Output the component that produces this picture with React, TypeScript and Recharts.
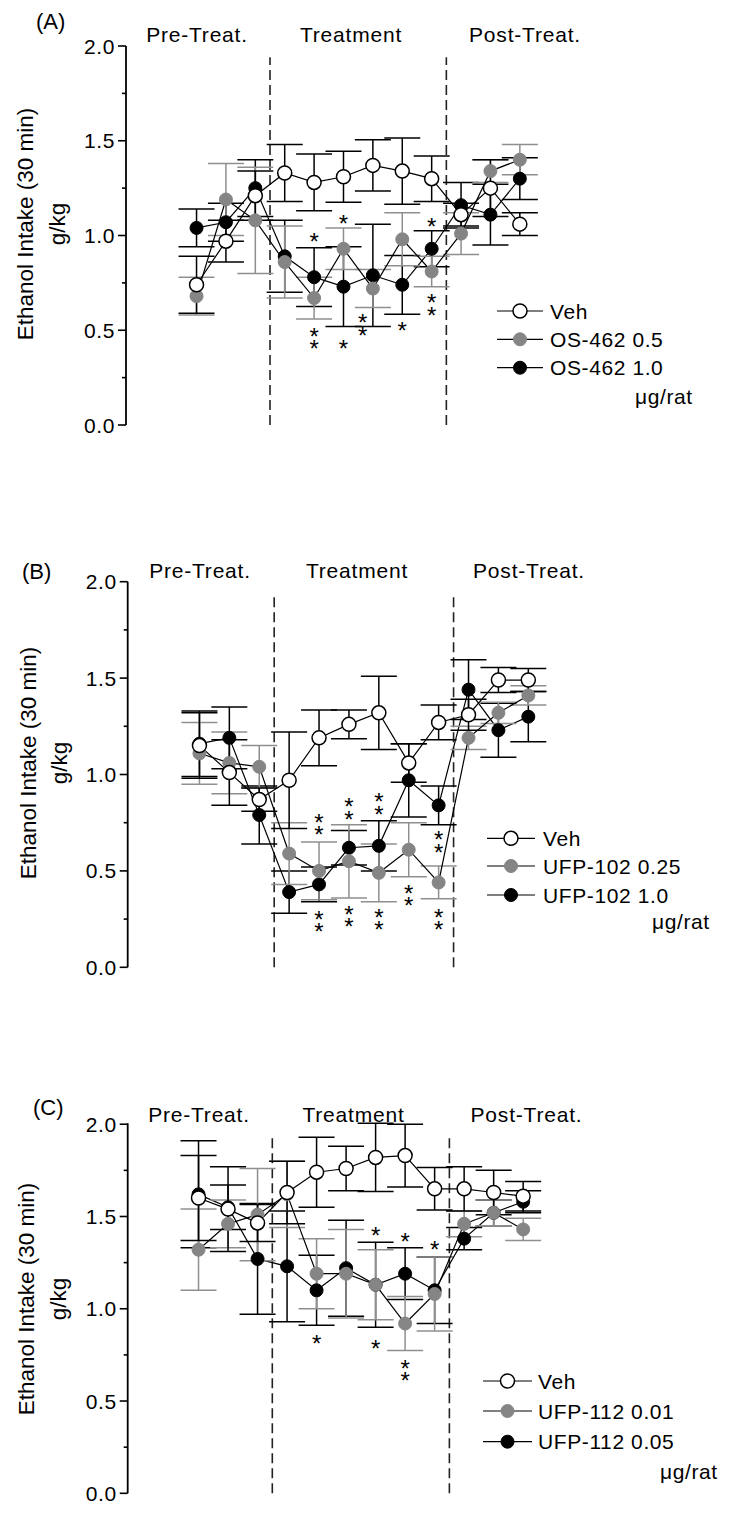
import { ComposedChart, Line, Scatter, XAxis, YAxis, ErrorBar, ReferenceLine } from "recharts";

// sessions 1-3 pre-treatment, 4-9 treatment, 10-12 post-treatment
const sessions = [1, 2, 3, 4, 5, 6, 7, 8, 9, 10, 11, 12];
const yTicks = [0, 0.25, 0.5, 0.75, 1, 1.25, 1.5, 1.75, 2];
const phaseBreaks = [3.5, 9.5];

// (A) OS-462
const vehA = [0.74, 0.97, 1.21, 1.33, 1.28, 1.31, 1.37, 1.34, 1.3, 1.11, 1.25, 1.06];
const vehASem = [0.15, 0.11, 0.13, 0.15, 0.15, 0.135, 0.135, 0.175, 0.12, 0.06, 0.15, 0.06];
const os05 = [0.68, 1.19, 1.08, 0.86, 0.67, 0.93, 0.72, 0.98, 0.81, 1.01, 1.34, 1.4];
const os05Sem = [0.1, 0.19, 0.28, 0.19, 0.11, 0.11, 0.1, 0.14, 0.08, 0.11, 0.06, 0.08];
const os10 = [1.04, 1.07, 1.25, 0.89, 0.78, 0.73, 0.79, 0.74, 0.93, 1.16, 1.11, 1.3];
const os10Sem = [0.1, 0.1, 0.15, 0.19, 0.155, 0.21, 0.27, 0.155, 0.095, 0.12, 0.16, 0.11];
const starsA = [
  { session: 5, y: 0.99, n: 1 },
  { session: 5, y: 0.46, n: 2 },
  { session: 6, y: 1.085, n: 1 },
  { session: 6, y: 0.43, n: 1 },
  { session: 6.65, y: 0.53, n: 2 },
  { session: 8, y: 0.52, n: 1 },
  { session: 9, y: 1.07, n: 1 },
  { session: 9, y: 0.636, n: 2 },
];

// (B) UFP-102
const vehB = [1.15, 1.01, 0.87, 0.97, 1.19, 1.26, 1.32, 1.06, 1.27, 1.31, 1.49, 1.49];
const vehBSem = [0.17, 0.17, 0.06, 0.25, 0.145, 0.075, 0.19, 0.1, 0.09, 0.08, 0.065, 0.06];
const ufp102Low = [1.11, 1.06, 1.04, 0.59, 0.5, 0.55, 0.49, 0.61, 0.44, 1.19, 1.32, 1.41];
const ufp102LowSem = [0.16, 0.16, 0.11, 0.16, 0.15, 0.19, 0.15, 0.14, 0.085, 0.06, 0.055, 0.05];
const ufp102High = [1.16, 1.19, 0.79, 0.39, 0.43, 0.62, 0.63, 0.97, 0.84, 1.44, 1.23, 1.3];
const ufp102HighSem = [0.17, 0.16, 0.15, 0.11, 0.09, 0.09, 0.13, 0.19, 0.1, 0.155, 0.14, 0.13];
const starsB = [
  { session: 5, y: 0.743, n: 2 },
  { session: 5, y: 0.24, n: 2 },
  { session: 6, y: 0.824, n: 2 },
  { session: 6, y: 0.266, n: 2 },
  { session: 7, y: 0.85, n: 2 },
  { session: 7, y: 0.25, n: 2 },
  { session: 8, y: 0.375, n: 2 },
  { session: 9, y: 0.652, n: 2 },
  { session: 9, y: 0.25, n: 2 },
];

// (C) UFP-112
const vehC = [1.6, 1.54, 1.465, 1.63, 1.74, 1.76, 1.82, 1.83, 1.65, 1.65, 1.63, 1.61];
const vehCSem = [0.23, 0.23, 0.1, 0.17, 0.19, 0.12, 0.185, 0.17, 0.115, 0.12, 0.12, 0.08];
const ufp112Low = [1.32, 1.46, 1.51, 1.62, 1.19, 1.19, 1.13, 0.92, 1.08, 1.46, 1.52, 1.43];
const ufp112LowSem = [0.22, 0.13, 0.25, 0.18, 0.19, 0.24, 0.19, 0.146, 0.2, 0.07, 0.07, 0.06];
const ufp112High = [1.62, 1.55, 1.27, 1.23, 1.1, 1.22, 1.13, 1.19, 1.1, 1.38, 1.52, 1.58];
const ufp112HighSem = [0.29, 0.12, 0.3, 0.3, 0.19, 0.26, 0.23, 0.14, 0.18, 0.06, 0.07, 0.06];
const starsC = [
  { session: 5, y: 0.838, n: 1 },
  { session: 7, y: 1.42, n: 1 },
  { session: 7, y: 0.807, n: 1 },
  { session: 8, y: 1.387, n: 1 },
  { session: 8, y: 0.667, n: 2 },
  { session: 9, y: 1.343, n: 1 },
];

const FONT = '"Liberation Sans", Arial, Helvetica, sans-serif';
const GREY = "#858585";
const GREY_BAR = "#8f8f8f";

function buildRows(veh: number[], vehSem: number[], low: number[], lowSem: number[], high: number[], highSem: number[]) {
  return sessions.map((s, i) => ({
    session: s,
    veh: veh[i],
    vehSem: vehSem[i],
    low: low[i],
    lowSem: lowSem[i],
    high: high[i],
    highSem: highSem[i],
  }));
}

function YTick({ x, y, payload }: any) {
  const v = payload.value;
  const major = Math.abs(v * 2 - Math.round(v * 2)) < 1e-6;
  return (
    <g>
      <line x1={x - (major ? 8 : 4)} x2={x} y1={y} y2={y} stroke="#000" strokeWidth={1.6} />
      {major && (
        <text x={x - 11} y={y} dy="0.36em" textAnchor="end" fontSize={21} fontFamily={FONT} fill="#000" letterSpacing={0.6}>
          {v.toFixed(1)}
        </text>
      )}
    </g>
  );
}

// one text element per group of stars, stacked with tspans
function StarShape({ cx, cy, payload }: any) {
  const n = payload.n;
  const gap = 12.5;
  const first = cy - ((n - 1) * gap) / 2;
  return (
    <text x={cx} y={first + 13} textAnchor="middle" fontSize={24} fontFamily={FONT} fill="#000">
      {Array.from({ length: n }).map((_, k) => (
        <tspan key={k} x={cx} dy={k === 0 ? 0 : gap}>
          *
        </tspan>
      ))}
    </text>
  );
}

interface PanelProps {
  top: number;
  height: number;
  margin: { top: number; right: number; bottom: number; left: number };
  rows: any[];
  stars: any[];
}

function Panel({ top, height, margin, rows, stars }: PanelProps) {
  return (
    <div style={{ position: "absolute", left: 0, top, width: 733, height }}>
      <ComposedChart width={733} height={height} data={rows} margin={margin}>
        <XAxis
          type="number"
          dataKey="session"
          domain={[-1.4, 15]}
          allowDataOverflow
          tick={false}
          tickLine={false}
          height={0}
          axisLine={{ stroke: "#000", strokeWidth: 1.8 }}
        />
        <YAxis
          type="number"
          domain={[0, 2]}
          ticks={yTicks}
          interval={0}
          width={60}
          tickSize={0}
          tickMargin={0}
          tickLine={false}
          tick={<YTick />}
          axisLine={{ stroke: "#000", strokeWidth: 1.8 }}
        />
        {phaseBreaks.map((b) => (
          <ReferenceLine
            key={b}
            segment={[
              { x: b, y: 0 },
              { x: b, y: 1.94 },
            ]}
            stroke="#222"
            strokeWidth={1.6}
            strokeDasharray="10 5"
          />
        ))}
        <Line
          dataKey="high"
          stroke="#000"
          strokeWidth={1.2}
          dot={{ r: 6.5, fill: "#000", stroke: "#000", strokeWidth: 1 }}
          activeDot={false}
          isAnimationActive={false}
        >
          <ErrorBar dataKey="highSem" width={18} stroke="#000" strokeWidth={1.5} />
        </Line>
        <Line
          dataKey="low"
          stroke="#000"
          strokeWidth={1.2}
          dot={{ r: 6.5, fill: GREY, stroke: GREY, strokeWidth: 1 }}
          activeDot={false}
          isAnimationActive={false}
        >
          <ErrorBar dataKey="lowSem" width={18} stroke={GREY_BAR} strokeWidth={1.5} />
        </Line>
        <Line
          dataKey="veh"
          stroke="#000"
          strokeWidth={1.2}
          dot={{ r: 7, fill: "#fff", stroke: "#000", strokeWidth: 1.5 }}
          activeDot={false}
          isAnimationActive={false}
        >
          <ErrorBar dataKey="vehSem" width={18} stroke="#000" strokeWidth={1.5} />
        </Line>
        <Scatter data={stars} dataKey="y" shape={<StarShape />} isAnimationActive={false} />
      </ComposedChart>
    </div>
  );
}

function Legend({ x1, x2, textX, rows, labels, unitX, unitY }: any) {
  const fills = ["#fff", GREY, "#000"];
  const strokes = ["#000", GREY, "#000"];
  const mid = (x1 + x2) / 2;
  return (
    <g>
      {labels.map((lab: string, i: number) => (
        <g key={lab}>
          <line x1={x1} x2={x2} y1={rows[i]} y2={rows[i]} stroke="#000" strokeWidth={1.2} />
          <circle cx={mid} cy={rows[i]} r={i === 0 ? 7 : 6.5} fill={fills[i]} stroke={strokes[i]} strokeWidth={i === 0 ? 1.5 : 1} />
          <text x={textX} y={rows[i]} dy="0.36em" fontSize={21} fontFamily={FONT} letterSpacing={0.6}>
            {lab}
          </text>
        </g>
      ))}
      <text x={unitX} y={unitY} dy="0.36em" fontSize={21} fontFamily={FONT} letterSpacing={0.6}>
        μg/rat
      </text>
    </g>
  );
}

function Texts({ letter, letterX, letterY, headerY, headerXs, labelY, labelX, unitLabelX }: any) {
  const headers = ["Pre-Treat.", "Treatment", "Post-Treat."];
  return (
    <g fontFamily={FONT} fill="#000">
      <text x={letterX} y={letterY} dy="0.36em" fontSize={22}>
        {letter}
      </text>
      {headers.map((h, i) => (
        <text key={h} x={headerXs[i]} y={headerY} dy="0.36em" textAnchor="middle" fontSize={21} letterSpacing={0.8}>
          {h}
        </text>
      ))}
      <text x={labelX} y={labelY} dy="0.36em" textAnchor="middle" fontSize={22.5} transform={`rotate(-90 ${labelX} ${labelY})`}>
        Ethanol Intake (30 min)
      </text>
      <text x={unitLabelX} y={labelY} dy="0.36em" textAnchor="middle" fontSize={22.5} transform={`rotate(-90 ${unitLabelX} ${labelY})`}>
        g/kg
      </text>
    </g>
  );
}

export default function App() {
  const rowsA = buildRows(vehA, vehASem, os05, os05Sem, os10, os10Sem);
  const rowsB = buildRows(vehB, vehBSem, ufp102Low, ufp102LowSem, ufp102High, ufp102HighSem);
  const rowsC = buildRows(vehC, vehCSem, ufp112Low, ufp112LowSem, ufp112High, ufp112HighSem);

  return (
    <div style={{ position: "absolute", left: 0, top: 0, width: 733, height: 1531, background: "#fff", overflow: "hidden" }}>
      <Panel top={0} height={470} margin={{ top: 46, right: 125, bottom: 45, left: 66 }} rows={rowsA} stars={starsA} />
      <Panel top={500} height={500} margin={{ top: 81.7, right: 115, bottom: 32.7, left: 67.7 }} rows={rowsB} stars={starsB} />
      <Panel top={1040} height={491} margin={{ top: 83.3, right: 121.3, bottom: 37.7, left: 67.7 }} rows={rowsC} stars={starsC} />
      <svg width={733} height={1531} style={{ position: "absolute", left: 0, top: 0, pointerEvents: "none" }}>
        <Texts letter="(A)" letterX={36} letterY={21} headerY={34.5} headerXs={[197, 351, 525]} labelY={224} labelX={25} unitLabelX={57} />
        <Legend x1={497} x2={543} textX={550} rows={[311, 339.3, 367.7]} labels={["Veh", "OS-462 0.5", "OS-462 1.0"]} unitX={635} unitY={396} />

        <Texts letter="(B)" letterX={22} letterY={571} headerY={570} headerXs={[200, 357, 529]} labelY={763} labelX={27.5} unitLabelX={59} />
        <Legend x1={487} x2={535} textX={543} rows={[838.3, 866, 895]} labels={["Veh", "UFP-102 0.25", "UFP-102 1.0"]} unitX={652} unitY={921.7} />

        <Texts letter="(C)" letterX={33} letterY={1107} headerY={1114} headerXs={[199, 353.5, 526.5]} labelY={1299} labelX={26} unitLabelX={57.5} />
        <Legend x1={483} x2={532} textX={538} rows={[1381, 1411, 1441.7]} labels={["Veh", "UFP-112 0.01", "UFP-112 0.05"]} unitX={660} unitY={1471.7} />
      </svg>
    </div>
  );
}
